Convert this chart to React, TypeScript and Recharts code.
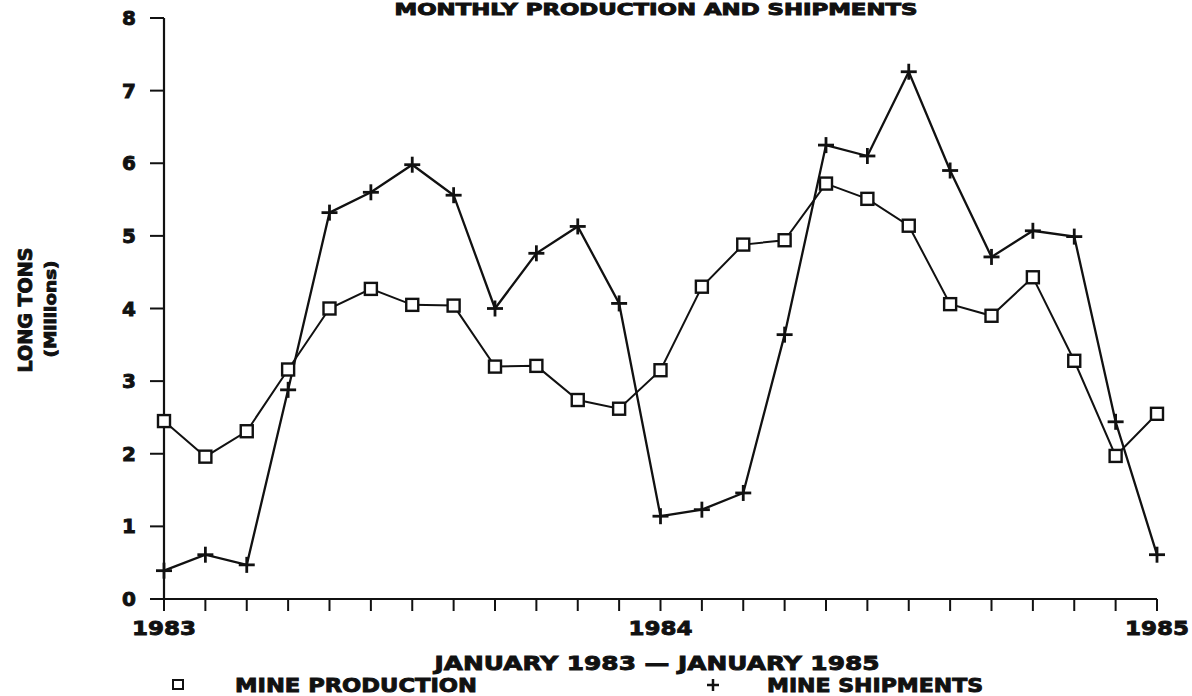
import { LineChart, Line, XAxis, YAxis, Customized } from "recharts"

const months = [
  "Jan 1983", "Feb 1983", "Mar 1983", "Apr 1983", "May 1983", "Jun 1983",
  "Jul 1983", "Aug 1983", "Sep 1983", "Oct 1983", "Nov 1983", "Dec 1983",
  "Jan 1984", "Feb 1984", "Mar 1984", "Apr 1984", "May 1984", "Jun 1984",
  "Jul 1984", "Aug 1984", "Sep 1984", "Oct 1984", "Nov 1984", "Dec 1984",
  "Jan 1985",
]

// long tons, millions
const production = [
  2.45, 1.96, 2.31, 3.16, 4.0, 4.27, 4.05, 4.04, 3.2, 3.21, 2.74, 2.62,
  3.15, 4.3, 4.88, 4.94, 5.72, 5.51, 5.14, 4.06, 3.9, 4.43, 3.28, 1.97, 2.55,
]
const shipments = [
  0.39, 0.61, 0.47, 2.88, 5.32, 5.6, 5.98, 5.56, 4.0, 4.76, 5.13, 4.07,
  1.14, 1.23, 1.46, 3.64, 6.25, 6.1, 7.26, 5.9, 4.71, 5.07, 4.99, 2.44, 0.61,
]
const yTicks = [0, 1, 2, 3, 4, 5, 6, 7, 8]

const data = months.map((m, i) => ({ month: m, production: production[i], shipments: shipments[i] }))

const INK = "#111"
const FONT = "'DejaVu Sans', Verdana, sans-serif"
// the old plotter lettering is heavier than any bold we have, so thicken it a little
const heavy = { stroke: INK, strokeWidth: 0.9, paintOrder: "stroke" } as const

const SquareDot = ({ cx, cy }: any) => {
  if (cx == null || cy == null) return null
  return <rect x={cx - 6} y={cy - 6} width={12} height={12} fill="#fff" stroke={INK} strokeWidth={2.4} />
}

const PlusDot = ({ cx, cy }: any) => {
  if (cx == null || cy == null) return null
  return (
    <g stroke={INK} strokeWidth={2.8}>
      <line x1={cx - 8} y1={cy} x2={cx + 8} y2={cy} />
      <line x1={cx} y1={cy - 8} x2={cx} y2={cy + 8} />
    </g>
  )
}

const YearTick = ({ x, y, payload }: any) => {
  const v: string = payload.value
  if (!v.startsWith("Jan")) return null
  return (
    <text
      x={x}
      y={y + 22}
      textAnchor="middle"
      fill={INK}
      fontFamily={FONT}
      fontSize={20}
      fontWeight={700}
      textLength={64}
      lengthAdjust="spacingAndGlyphs"
      {...heavy}
    >
      {v.slice(4)}
    </text>
  )
}

const ValueTick = ({ x, y, payload }: any) => (
  <text x={x} y={y + 7} textAnchor="end" fill={INK} fontFamily={FONT} fontSize={20} fontWeight={700} {...heavy}>
    {payload.value}
  </text>
)

const Overlay = () => (
  <g fill={INK} fontFamily={FONT} fontWeight={700} {...heavy}>
    <text x={656} y={15} textAnchor="middle" fontSize={15} textLength={523} lengthAdjust="spacingAndGlyphs">
      MONTHLY PRODUCTION AND SHIPMENTS
    </text>
    <text transform="translate(32,310) rotate(-90)" textAnchor="middle" fontSize={19} textLength={125} lengthAdjust="spacingAndGlyphs">
      LONG TONS
    </text>
    <text transform="translate(56,309) rotate(-90)" textAnchor="middle" fontSize={16} textLength={97} lengthAdjust="spacingAndGlyphs">
      (Millions)
    </text>
    <text x={657} y={670} textAnchor="middle" fontSize={20} textLength={445} lengthAdjust="spacingAndGlyphs">
      JANUARY 1983 — JANUARY 1985
    </text>
    <rect x={173} y={680} width={10} height={9} fill="none" stroke={INK} strokeWidth={2} />
    <text x={235} y={692} fontSize={19} textLength={242} lengthAdjust="spacingAndGlyphs">
      MINE PRODUCTION
    </text>
    <g stroke={INK} strokeWidth={2.5}>
      <line x1={707} y1={685} x2={719} y2={685} />
      <line x1={713} y1={679} x2={713} y2={691} />
    </g>
    <text x={767} y={692} fontSize={19} textLength={216} lengthAdjust="spacingAndGlyphs">
      MINE SHIPMENTS
    </text>
  </g>
)

export default function App() {
  return (
    <div style={{ position: "absolute", left: 0, top: 0, width: 1192, height: 696, background: "#fff" }}>
      <LineChart width={1192} height={696} data={data} margin={{ top: 18, right: 35, bottom: 57, left: 104 }}>
        <XAxis
          dataKey="month"
          interval={0}
          height={40}
          tickSize={12}
          tickMargin={2}
          tick={<YearTick />}
          axisLine={{ stroke: INK, strokeWidth: 2.2 }}
          tickLine={{ stroke: INK, strokeWidth: 2 }}
        />
        <XAxis
          xAxisId="top"
          orientation="top"
          dataKey="month"
          height={0}
          tick={false}
          tickLine={false}
          axisLine={{ stroke: INK, strokeWidth: 1.8 }}
        />
        <YAxis
          domain={[0, 8]}
          ticks={yTicks}
          width={60}
          tickSize={14}
          tickMargin={14}
          tick={<ValueTick />}
          axisLine={{ stroke: INK, strokeWidth: 2.2 }}
          tickLine={{ stroke: INK, strokeWidth: 2 }}
        />
        <YAxis
          yAxisId="right"
          orientation="right"
          domain={[0, 8]}
          width={0}
          tick={false}
          tickLine={false}
          axisLine={{ stroke: INK, strokeWidth: 1.8 }}
        />
        <Line
          dataKey="production"
          stroke={INK}
          strokeWidth={2}
          dot={<SquareDot />}
          activeDot={false}
          isAnimationActive={false}
        />
        <Line
          dataKey="shipments"
          stroke={INK}
          strokeWidth={2.3}
          dot={<PlusDot />}
          activeDot={false}
          isAnimationActive={false}
        />
        <Customized component={Overlay} />
      </LineChart>
    </div>
  )
}
